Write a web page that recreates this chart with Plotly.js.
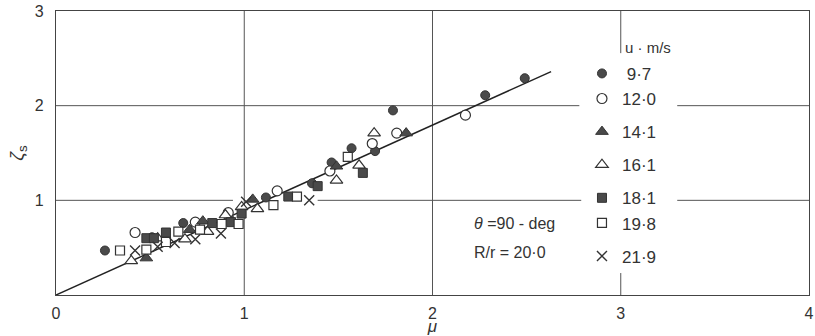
<!DOCTYPE html>
<html><head><meta charset="utf-8">
<script src="https://cdn.plot.ly/plotly-3.0.1.min.js"></script>
<style>html,body{margin:0;padding:0;background:#fff}#chart{width:815px;height:336px}</style>
</head><body><div id="chart"></div>
<script>
// series: u (m/s) labels
const seriesLabels = ["\u00a09\u00b77", "12\u00b70", "14\u00b71", "16\u00b71", "18\u00b71", "19\u00b78", "21\u00b79"];
// mu (x) and zeta_s (y) values per series
const x97  = [0.26, 0.51, 0.676, 0.92, 1.115, 1.36, 1.464, 1.57, 1.695, 1.79, 2.28, 2.49];
const y97  = [0.47, 0.61, 0.76, 0.81, 1.03, 1.18, 1.40, 1.55, 1.52, 1.95, 2.11, 2.29];
const x120 = [0.42, 0.74, 0.915, 1.175, 1.455, 1.68, 1.81, 2.175];
const y120 = [0.66, 0.77, 0.87, 1.10, 1.31, 1.60, 1.71, 1.90];
const x141 = [0.48, 0.71, 0.78, 1.045, 1.49, 1.86];
const y141 = [0.39, 0.69, 0.78, 1.01, 1.36, 1.71];
const x161 = [0.40, 0.54, 0.685, 0.805, 0.90, 0.986, 1.07, 1.49, 1.61, 1.69];
const y161 = [0.36, 0.60, 0.59, 0.67, 0.845, 0.93, 0.91, 1.21, 1.37, 1.71];
const x181 = [0.48, 0.52, 0.584, 0.83, 0.93, 0.986, 1.234, 1.39, 1.63];
const y181 = [0.60, 0.60, 0.66, 0.76, 0.77, 0.86, 1.04, 1.15, 1.29];
const x198 = [0.34, 0.48, 0.584, 0.65, 0.765, 0.88, 0.97, 1.155, 1.28, 1.55];
const y198 = [0.47, 0.48, 0.56, 0.67, 0.69, 0.75, 0.75, 0.95, 1.04, 1.46];
const x219 = [0.42, 0.54, 0.63, 0.74, 0.876, 1.01, 1.345];
const y219 = [0.47, 0.51, 0.55, 0.59, 0.65, 0.985, 1.00];
// fitted straight line
const fitX = [0, 2.63];
const fitY = [0, 2.36];
const xTicks = [0, 1, 2, 3, 4];
const yTicks = [1, 2, 3];

const ink = '#333';
const fill = '#4a4a4a';
const traces = [
  {x: fitX, y: fitY, mode: 'lines', line: {color: '#222', width: 1.5}, showlegend: false, hoverinfo: 'skip'},
  {x: x97, y: y97, name: seriesLabels[0], legendgroup: 'a', mode: 'markers',
   marker: {symbol: 'circle', size: 9, color: fill, line: {color: ink, width: 1}}},
  {x: x120, y: y120, name: seriesLabels[1], legendgroup: 'a', mode: 'markers',
   marker: {symbol: 'circle', size: 10, color: '#fff', line: {color: ink, width: 1.2}}},
  {x: x141, y: y141, name: seriesLabels[2], legendgroup: 'b', mode: 'markers',
   marker: {symbol: 'triangle-up', size: 11, color: fill, line: {color: ink, width: 1}}},
  {x: x161, y: y161, name: seriesLabels[3], legendgroup: 'c', mode: 'markers',
   marker: {symbol: 'triangle-up', size: 11, color: '#fff', line: {color: ink, width: 1.2}}},
  {x: x181, y: y181, name: seriesLabels[4], legendgroup: 'd', mode: 'markers',
   marker: {symbol: 'square', size: 9, color: fill, line: {color: ink, width: 1}}},
  {x: x198, y: y198, name: seriesLabels[5], legendgroup: 'd', mode: 'markers',
   marker: {symbol: 'square', size: 9, color: '#fff', line: {color: ink, width: 1.2}}},
  {x: x219, y: y219, name: seriesLabels[6], legendgroup: 'e', mode: 'markers',
   marker: {symbol: 'x-thin', size: 10, color: ink, line: {color: ink, width: 1.4}}}
];

const gl = {color: '#555', width: 1};
function seg(x0, y0, x1, y1) { return {type: 'line', xref: 'x', yref: 'y', x0, y0, x1, y1, line: gl, layer: 'below'}; }
const shapes = [
  seg(1, 0, 1, 3), seg(2, 0, 2, 3),
  seg(3, 2.555, 3, 3), seg(3, 0, 3, 0.232),
  seg(0, 2, 2.78, 2), seg(3.30, 2, 4, 2),
  seg(0, 1, 0.94, 1), seg(1.39, 1, 2.79, 1), seg(3.30, 1, 4, 1)
];

const font = {family: '"Liberation Sans", Arial, sans-serif', color: ink};
const layout = {
  width: 815, height: 336,
  margin: {l: 56, r: 6, t: 11, b: 41},
  paper_bgcolor: '#fff', plot_bgcolor: '#fff',
  font: font,
  showlegend: true,
  legend: {x: 0.6985, y: 0.842, xanchor: 'left', yanchor: 'top', bgcolor: 'rgba(0,0,0,0)',
           traceorder: 'grouped', tracegroupgap: 8, font: {family: font.family, size: 17, color: ink}},
  xaxis: {range: [0, 4], tickvals: xTicks, ticktext: xTicks.map(String), showgrid: false, zeroline: false,
          showline: true, linecolor: '#444', linewidth: 1.2, mirror: true, ticks: '',
          tickfont: {size: 16, color: ink}, ticklabelstandoff: 4,
          title: {text: '<i>μ</i>', font: {size: 17, color: ink}, standoff: 6}},
  yaxis: {range: [0, 3], tickvals: yTicks, ticktext: yTicks.map(String), showgrid: false, zeroline: false,
          showline: true, linecolor: '#444', linewidth: 1.2, mirror: true, ticks: '',
          tickfont: {size: 16, color: ink}, ticklabelstandoff: 8,
          title: {text: '<i>ζ</i><sub>s</sub>', font: {size: 19, color: ink}, standoff: 6}},
  shapes: shapes,
  annotations: [
    {xref: 'paper', yref: 'paper', x: 0.753, y: 0.873, xanchor: 'left', yanchor: 'middle', showarrow: false,
     text: 'u · m/s', font: {size: 15, color: ink}},
    {xref: 'paper', yref: 'paper', x: 0.5525, y: 0.2535, xanchor: 'left', yanchor: 'middle', showarrow: false,
     text: '<i>θ</i> =90 - deg', font: {size: 16, color: ink}},
    {xref: 'paper', yref: 'paper', x: 0.5525, y: 0.151, xanchor: 'left', yanchor: 'middle', showarrow: false,
     text: 'R/r = 20·0', font: {size: 16, color: ink}}
  ]
};
Plotly.newPlot('chart', traces, layout, {staticPlot: true, displayModeBar: false});
</script></body></html>
